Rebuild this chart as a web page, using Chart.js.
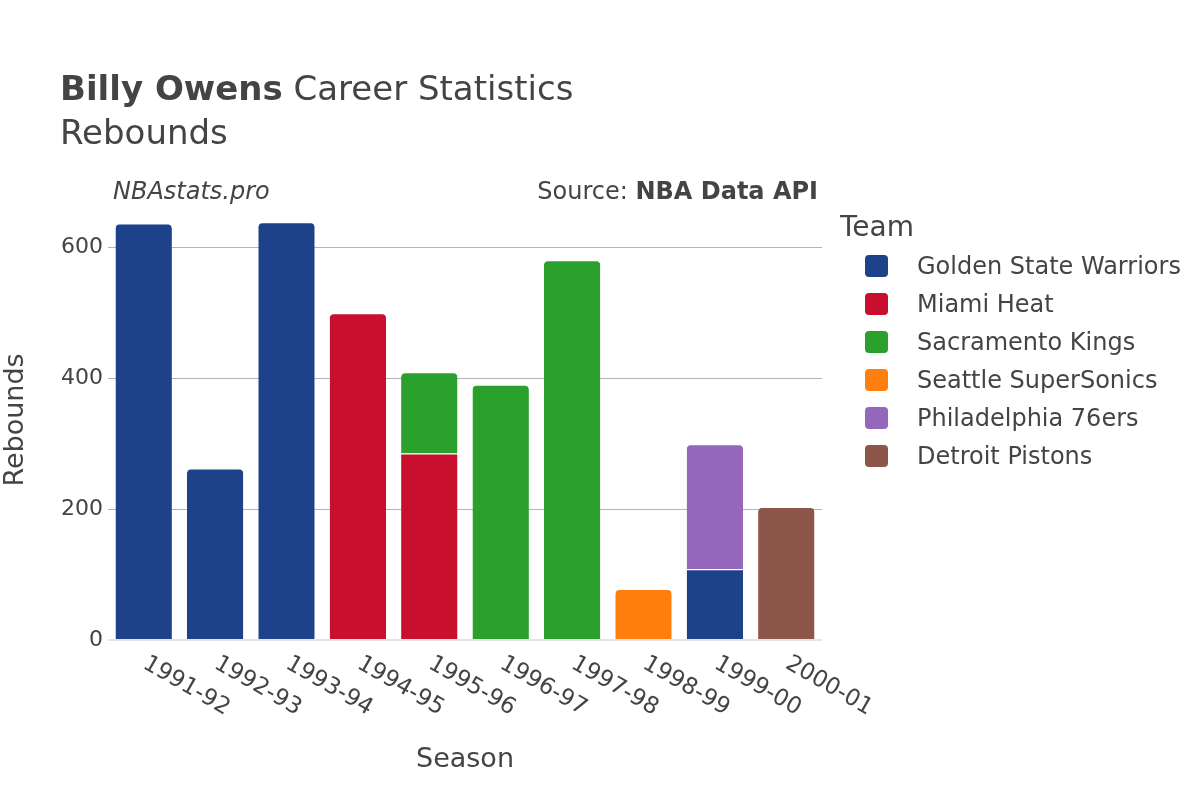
<!DOCTYPE html>
<html>
<head>
<meta charset="utf-8">
<script src="https://cdn.jsdelivr.net/npm/chart.js@4"></script>
<style>
  body { margin: 0; background: #fff; }
  #wrap { position: relative; width: 1200px; height: 800px; font-family: "DejaVu Sans", sans-serif; color: #444; }
  #chart { position: absolute; left: 0; top: 0; }
  .txt { position: absolute; white-space: nowrap; line-height: 1; }
  #legend { position: absolute; left: 840px; top: 210px; }
  .leg-item { position: absolute; left: 25px; height: 24px; white-space: nowrap; }
  .leg-box { position: absolute; left: 0; top: 1px; width: 23px; height: 22px; border-radius: 4px; }
  .leg-label { position: absolute; left: 52px; top: 0; font-size: 24px; line-height: 24px; }
</style>
</head>
<body>
<div id="wrap">
  <canvas id="chart" width="1200" height="800"></canvas>
  <div class="txt" style="left:60px; top:71px; font-size:34px;"><b>Billy Owens</b> Career Statistics</div>
  <div class="txt" style="left:60px; top:115px; font-size:34px;">Rebounds</div>
  <div class="txt" style="left:113px; top:179px; font-size:24px; font-style:italic;">NBAstats.pro</div>
  <div class="txt" style="right:382px; top:179px; font-size:24px;">Source: <b>NBA Data API</b></div>
  <div id="legend">
    <div class="txt" style="left:0; top:3px; font-size:28px;">Team</div>
  </div>
</div>
<script>
// seasons on the x axis
const seasons = ["1991-92", "1992-93", "1993-94", "1994-95", "1995-96",
  "1996-97", "1997-98", "1998-99", "1999-00", "2000-01"];

// rebounds per team, per season
const warriors = [636, 262, 638, null, null, null, null, null, 108, null];
const heat = [null, null, null, 499, 285, null, null, null, null, null];
const kings = [null, null, null, null, 124, 390, 580, null, null, null];
const sonics = [null, null, null, null, null, null, null, 78, null, null];
const sixers = [null, null, null, null, null, null, null, null, 191, null];
const pistons = [null, null, null, null, null, null, null, null, null, 203];

const teamNames = ["Golden State Warriors", "Miami Heat", "Sacramento Kings",
  "Seattle SuperSonics", "Philadelphia 76ers", "Detroit Pistons"];
const teamColors = ["#1d428a", "#c8102e", "#2ca02c", "#ff7f0e", "#9467bd", "#8c564b"];
const teamValues = [warriors, heat, kings, sonics, sixers, pistons];

const yTicks = [0, 200, 400, 600];

// only the top block of a stack gets rounded corners
function isTopOfStack(ctx) {
  const i = ctx.dataIndex;
  for (let d = ctx.datasetIndex + 1; d < teamValues.length; d++) {
    if (teamValues[d][i] != null) return false;
  }
  return true;
}

const datasets = teamNames.map((name, k) => ({
  label: name,
  data: teamValues[k],
  backgroundColor: teamColors[k],
  borderColor: "#ffffff",
  borderWidth: { top: 1, left: 0, right: 0, bottom: 0 },
  borderSkipped: "start",
  borderRadius: (ctx) => isTopOfStack(ctx) ? { topLeft: 5, topRight: 5, bottomLeft: 0, bottomRight: 0 } : 0,
  barPercentage: 0.79,
  categoryPercentage: 1,
}));

// legend (html), built from the team arrays
const legend = document.getElementById("legend");
teamNames.forEach((name, k) => {
  const item = document.createElement("div");
  item.className = "leg-item";
  item.style.top = (44 + k * 38) + "px";
  item.innerHTML = `<div class="leg-box" style="background:${teamColors[k]}"></div><div class="leg-label">${name}</div>`;
  legend.appendChild(item);
});

// rotated season labels, like the reference (text runs down to the right)
const seasonLabels = {
  id: "seasonLabels",
  afterDraw(chart) {
    const ctx = chart.ctx;
    const xs = chart.scales.x;
    ctx.save();
    ctx.font = "23px 'DejaVu Sans'";
    ctx.fillStyle = "#444";
    ctx.textAlign = "left";
    ctx.textBaseline = "middle";
    xs.ticks.forEach((t, i) => {
      const x = xs.getPixelForTick(i);
      ctx.save();
      ctx.translate(x + 1, 662);
      ctx.rotate(Math.PI / 6);
      ctx.fillText(seasons[i], 0, 0);
      ctx.restore();
    });
    ctx.restore();
  },
};

new Chart(document.getElementById("chart"), {
  type: "bar",
  data: { labels: seasons, datasets: datasets },
  options: {
    responsive: false,
    animation: false,
    layout: { padding: { left: 0, right: 378, top: 200, bottom: 0 } },
    plugins: { legend: { display: false }, tooltip: { enabled: false } },
    scales: {
      x: {
        stacked: true,
        grid: { display: false },
        border: { display: false },
        ticks: { display: false },
        title: { display: true, text: "Season", color: "#444", font: { family: "DejaVu Sans", size: 27 }, padding: { top: 0, bottom: 24 } },
        afterFit: (s) => { s.height = 160; },
      },
      y: {
        stacked: true,
        min: 0,
        max: 672,
        afterBuildTicks: (s) => { s.ticks = yTicks.map((v) => ({ value: v })); },
        grid: {
          drawTicks: false,
          color: (c) => c.tick.value === 0 ? "#e4e4e4" : "#b4b4b4",
          lineWidth: (c) => c.tick.value === 0 ? 2 : 1,
        },
        border: { display: false },
        ticks: { padding: 5, color: "#444", font: { family: "DejaVu Sans", size: 22 } },
        title: { display: true, text: "Rebounds", color: "#444", font: { family: "DejaVu Sans", size: 27 }, padding: { top: 0, bottom: 0 } },
        afterFit: (s) => { s.width = 108; },
      },
    },
  },
  plugins: [seasonLabels],
});
</script>
</body>
</html>
